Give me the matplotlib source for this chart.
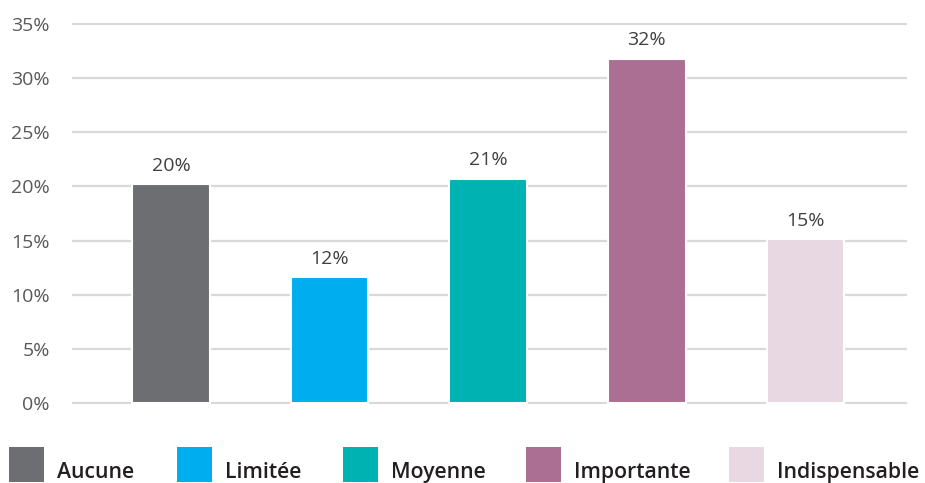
import matplotlib.pyplot as plt
from matplotlib.patches import Rectangle

categories = ["Aucune", "Limitée", "Moyenne", "Importante", "Indispensable"]
values = [20.2, 11.6, 20.7, 31.8, 15.1]
labels = ["20%", "12%", "21%", "32%", "15%"]
colors = ["#6d6e71", "#00aeef", "#00b2b2", "#ab6f94", "#e7d8e2"]
yticks = [0, 5, 10, 15, 20, 25, 30, 35]

W, H = 925, 483
fig = plt.figure(figsize=(W / 100, H / 100), dpi=100)
ax = fig.add_axes([72 / W, 1 - 404 / H, (907 - 72) / W, (404 - 23) / H])

x = list(range(len(categories)))
bars = ax.bar(x, values, width=0.49, color=colors, edgecolor="white", lw=1.5, zorder=3)
ax.set_xlim(-0.624, 4.64)
ax.set_ylim(-0.1, 35.1)
ax.set_yticks(yticks)
ax.set_yticklabels([f"{t}%" for t in yticks], fontsize=14, color="#595959",
                   family="Open Sans")
ax.set_xticks([])
ax.tick_params(axis="y", length=0, pad=16)
ax.grid(axis="y", color="#d9d9d9", lw=1.6, zorder=0)
for s in ax.spines.values():
    s.set_visible(False)

for b, lab in zip(bars, labels):
    ax.annotate(lab, (b.get_x() + b.get_width() / 2, b.get_height()),
                xytext=(0, 7), textcoords="offset points", ha="center", va="bottom",
                fontsize=14, color="#404040", family="Open Sans")

# legend along the bottom
sq_x = [9, 177, 343, 526, 729]
for sx, c, name in zip(sq_x, colors, categories):
    fig.patches.append(Rectangle((sx / W, 1 / H), 35 / W, 35 / H, transform=fig.transFigure,
                                 facecolor=c, edgecolor="none"))
    fig.text((sx + 48) / W, 5 / H, name, fontsize=15.3, fontweight="semibold",
             color="#231f20", ha="left", va="baseline", family="Open Sans")

fig.savefig("out.png", dpi=100)
